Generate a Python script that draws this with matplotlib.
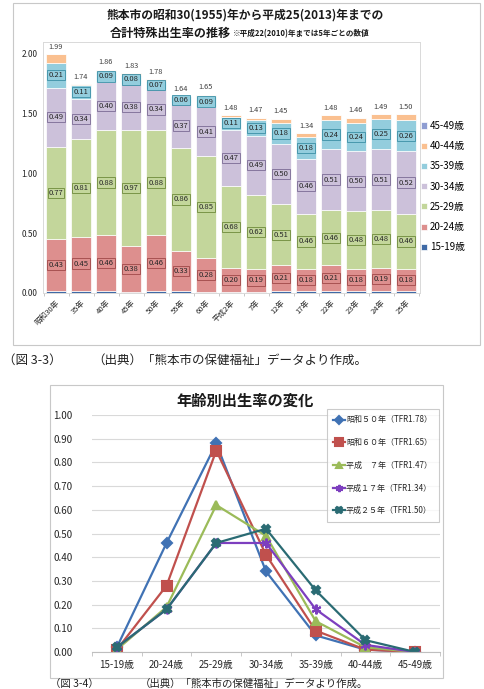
import numpy as np
import matplotlib.pyplot as plt
from matplotlib.patches import Rectangle

plt.rcParams['font.family'] = ['Noto Sans CJK JP', 'DejaVu Sans']

# ---- data: stacked bars (age-specific fertility rate by year) ----
years = ['昭和30年', '35年', '40年', '45年', '50年', '55年', '60年', '平成2年',
         '7年', '12年', '17年', '22年', '23年', '24年', '25年']
age_groups = ['15-19歳', '20-24歳', '25-29歳', '30-34歳', '35-39歳', '40-44歳', '45-49歳']
r15 = [0.02, 0.02, 0.02, 0.01, 0.02, 0.02, 0.01, 0.01, 0.01, 0.02, 0.02, 0.02, 0.02, 0.02, 0.02]
r20 = [0.43, 0.45, 0.46, 0.38, 0.46, 0.33, 0.28, 0.20, 0.19, 0.21, 0.18, 0.21, 0.18, 0.19, 0.18]
r25 = [0.77, 0.81, 0.88, 0.97, 0.88, 0.86, 0.85, 0.68, 0.62, 0.51, 0.46, 0.46, 0.48, 0.48, 0.46]
r30 = [0.49, 0.34, 0.40, 0.38, 0.34, 0.37, 0.41, 0.47, 0.49, 0.50, 0.46, 0.51, 0.50, 0.51, 0.52]
r35 = [0.21, 0.11, 0.09, 0.08, 0.07, 0.06, 0.09, 0.11, 0.13, 0.18, 0.18, 0.24, 0.24, 0.25, 0.26]
r40 = [0.07, 0.01, 0.01, 0.01, 0.01, 0.00, 0.01, 0.01, 0.02, 0.03, 0.03, 0.04, 0.04, 0.04, 0.05]
r45 = [0.00] * 15
tfr = [1.99, 1.74, 1.86, 1.83, 1.78, 1.64, 1.65, 1.48, 1.47, 1.45, 1.34, 1.48, 1.46, 1.49, 1.50]

# ---- data: line chart ----
ages = ['15-19歳', '20-24歳', '25-29歳', '30-34歳', '35-39歳', '40-44歳', '45-49歳']
s50 = [0.02, 0.46, 0.88, 0.34, 0.07, 0.01, 0.00]
s60 = [0.01, 0.28, 0.85, 0.41, 0.09, 0.01, 0.00]
h07 = [0.01, 0.19, 0.62, 0.49, 0.13, 0.02, 0.00]
h17 = [0.02, 0.18, 0.46, 0.46, 0.18, 0.03, 0.00]
h25 = [0.02, 0.18, 0.46, 0.52, 0.26, 0.05, 0.00]
line_labels = ['昭和５０年（TFR1.78）', '昭和６０年（TFR1.65）', '平成　７年（TFR1.47）',
               '平成１７年（TFR1.34）', '平成２５年（TFR1.50）']

W, H = 484, 689


def box(x0, y0, x1, y1):
    return [x0 / W, 1 - y1 / H, (x1 - x0) / W, (y1 - y0) / H]


def fy(y):
    return 1 - y / H


fig = plt.figure(figsize=(W / 100, H / 100), dpi=100)

# outer frames
fig.add_artist(Rectangle((13 / W, fy(345)), 467 / W, 342 / H, transform=fig.transFigure,
                         fill=False, ec='#C8C8C8', lw=0.8))
fig.add_artist(Rectangle((50 / W, fy(678)), 393 / W, 293 / H, transform=fig.transFigure,
                         fill=False, ec='#C8C8C8', lw=0.8))

# ---------------- top: stacked bar chart ----------------
ax = fig.add_axes(box(43, 42, 420, 293))
seg_vals = [r15, r20, r25, r30, r35, r40, r45]
seg_cols = ['#3F6AA6', '#DD8F8E', '#C3D69B', '#CCC1DA', '#93CDDD', '#FAC090', '#8E9DD2']
edge_cols = [None, '#A04848', '#6E8A3A', '#7A6A94', '#3B8FA6', None, None]
x = np.arange(len(years))
bottom = np.zeros(len(years))
handles = []
for i, (vals, col) in enumerate(zip(seg_vals, seg_cols)):
    vals = np.array(vals)
    b = ax.bar(x, vals, 0.8, bottom=bottom, color=col, edgecolor='white', linewidth=0.5)
    handles.append(b)
    if edge_cols[i] is not None:
        for xi, v, b0 in zip(x, vals, bottom):
            ax.text(xi, b0 + v / 2, f'{v:.2f}', ha='center', va='center', fontsize=5.5,
                    color='#262626',
                    bbox=dict(boxstyle='square,pad=0.15', fc=col, ec=edge_cols[i], lw=0.6))
    bottom = bottom + vals
for xi, top, t in zip(x, bottom, tfr):
    ax.text(xi, top + 0.03, f'{t:.2f}', ha='center', va='bottom', fontsize=5.3, color='#404040')

ax.set_xlim(-0.52, 14.56)
ax.set_ylim(0, 2.092)
ax.set_yticks([0, 0.5, 1.0, 1.5, 2.0])
ax.set_yticklabels([f'{v:.2f}' for v in [0, 0.5, 1.0, 1.5, 2.0]], fontsize=6, color='#262626')
ax.set_xticks(x)
ax.set_xticklabels(years, rotation=45, ha='right', rotation_mode='anchor', fontsize=5.5,
                   color='#262626')
ax.tick_params(axis='x', length=0, pad=4)
ax.tick_params(axis='y', length=0, pad=4)
ax.set_xticks(np.arange(-0.5, 15, 1), minor=True)
ax.tick_params(axis='x', which='minor', length=2, color='#BFBFBF')
for s in ax.spines.values():
    s.set_color('#D9D9D9')
    s.set_linewidth(0.7)

fig.legend(handles=handles[::-1], labels=age_groups[::-1], loc='upper left',
           bbox_to_anchor=(421 / W, fy(121)), frameon=False, fontsize=7,
           handlelength=0.6, handleheight=0.6, handletextpad=0.3, labelspacing=1.05,
           borderaxespad=0, borderpad=0)

fig.text(245 / W, fy(15), '熊本市の昭和30(1955)年から平成25(2013)年までの', ha='center',
         va='center', fontsize=8.5, fontweight='bold', color='#1a1a1a')
fig.text(110 / W, fy(33), '合計特殊出生率の推移', ha='left', va='center', fontsize=8.7,
         fontweight='bold', color='#1a1a1a')
fig.text(233 / W, fy(34), '※平成22(2010)年までは5年ごとの数値', ha='left', va='center',
         fontsize=5.5, fontweight='bold', color='#1a1a1a')

fig.text(3 / W, fy(360), '（図 3-3）', ha='left', va='center', fontsize=9, color='#222222')
fig.text(92 / W, fy(360), '（出典）「熊本市の保健福祉」データより作成。', ha='left', va='center',
         fontsize=9, color='#222222')

# ---------------- bottom: line chart ----------------
ax2 = fig.add_axes(box(92, 415, 440, 652))
series = [s50, s60, h07, h17, h25]
l_cols = ['#4072B4', '#C0504D', '#9BBB59', '#7D3FBF', '#2A6B73']
markers = ['D', 's', '^', (6, 2, 0), 'X']
msizes = [5, 7, 6, 7, 6]
xa = np.arange(len(ages))
for vals, col, m, ms, lab in zip(series, l_cols, markers, msizes, line_labels):
    ax2.plot(xa, vals, color=col, lw=1.6, marker=m, ms=ms, mfc=col, mec=col, mew=1.5,
             label=lab)
ax2.set_xlim(-0.5, 6.5)
ax2.set_ylim(0, 1.0)
yt = np.round(np.arange(0, 1.01, 0.1), 2)
ax2.set_yticks(yt)
ax2.set_yticklabels([f'{v:.2f}' for v in yt], fontsize=7, color='#262626')
ax2.set_xticks(xa)
ax2.set_xticklabels(ages, fontsize=7, color='#262626')
ax2.tick_params(axis='both', length=0)
ax2.tick_params(axis='y', pad=14)
ax2.tick_params(axis='x', pad=6)
ax2.set_xticks(np.arange(-0.5, 7, 1), minor=True)
ax2.tick_params(axis='x', which='minor', length=3, color='#BFBFBF')
ax2.grid(axis='y', color='#D9D9D9', lw=0.8)
ax2.set_axisbelow(True)
for k in ['left', 'top', 'right']:
    ax2.spines[k].set_visible(False)
ax2.spines['bottom'].set_color('#BFBFBF')

leg = ax2.legend(loc='upper left', bbox_to_anchor=((327 - 92) / 348, 1 - (409 - 415) / 237),
                 fontsize=5.8, frameon=True, fancybox=False, edgecolor='#BFBFBF',
                 handlelength=1.4, handletextpad=0.15, labelspacing=1.7, borderpad=0.8,
                 borderaxespad=0, markerscale=0.75)
leg.get_frame().set_linewidth(0.8)
for t in leg.get_texts():
    t.set_color('#262626')

fig.text(245 / W, fy(401), '年齢別出生率の変化', ha='center', va='center', fontsize=11,
         fontweight='bold', color='#1a1a1a')

fig.text(50 / W, fy(688.5), '（図 3-4）', ha='left', va='bottom', fontsize=7.5, color='#222222')
fig.text(140 / W, fy(688.5), '（出典）「熊本市の保健福祉」データより作成。', ha='left',
         va='bottom', fontsize=7.5, color='#222222')

fig.savefig('out.png', dpi=100)
